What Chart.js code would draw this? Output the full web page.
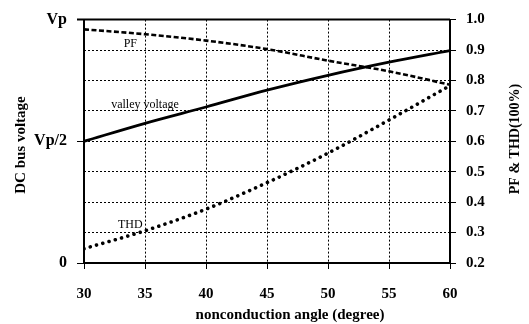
<!DOCTYPE html>
<html>
<head>
<meta charset="utf-8">
<script src="https://cdn.jsdelivr.net/npm/chart.js@4"></script>
<style>
  html, body { margin: 0; padding: 0; background: #fff; }
  canvas { display: block; }
</style>
</head>
<body>
<canvas id="chart" width="529" height="324"></canvas>
<script>
// nonconduction angle (degree)
const angles = [30, 35, 40, 45, 50, 55, 60];
// power factor (right axis)
const pf = [0.968, 0.952, 0.931, 0.903, 0.865, 0.830, 0.786];
// valley voltage as a fraction of Vp (left axis)
const valleyVoltage = [0.5, 0.574, 0.641, 0.71, 0.771, 0.825, 0.873];
// THD (right axis)
const thd = [0.247, 0.306, 0.377, 0.464, 0.561, 0.670, 0.783];
const leftTickLabels = ["0", "Vp/2", "Vp"];
const curveNames = ["PF", "valley voltage", "THD"];
const axisTitles = ["DC bus voltage", "PF & THD(100%)", "nonconduction angle (degree)"];

const serif = "'Liberation Serif', 'Times New Roman', serif";
const toPoints = (ys) => angles.map((x, i) => ({ x: x, y: ys[i] }));

// solid top edge of the plot box, and the axis titles (vertical ones read upward)
const frame = {
  id: "frame",
  afterDraw(chart) {
    const { ctx, chartArea } = chart;
    ctx.save();
    ctx.strokeStyle = "#000";
    ctx.lineWidth = 2;
    ctx.beginPath();
    ctx.moveTo(chartArea.left - 7, chartArea.top);
    ctx.lineTo(chartArea.right, chartArea.top);
    ctx.stroke();

    ctx.fillStyle = "#000";
    ctx.textAlign = "center";
    ctx.textBaseline = "middle";
    [[21, 145, 15, -Math.PI / 2], [515, 139, 14, -Math.PI / 2], [290, 315, 15, 0]].forEach(([x, y, size, rot], i) => {
      ctx.save();
      ctx.font = "bold " + size + "px " + serif;
      ctx.translate(x, y);
      ctx.rotate(rot);
      ctx.fillText(axisTitles[i], 0, 0);
      ctx.restore();
    });
    ctx.restore();
  },
};

// curve names written next to the lines
const curveLabels = {
  id: "curveLabels",
  afterDatasetsDraw(chart) {
    const { ctx, scales } = chart;
    const spots = [
      [33.8, 0.92, "y"],
      [35.0, 0.65, "yL"],
      [33.8, 0.324, "y"],
    ];
    ctx.save();
    ctx.fillStyle = "#000";
    ctx.font = "12px " + serif;
    ctx.textAlign = "center";
    ctx.textBaseline = "middle";
    spots.forEach(([x, y, axis], i) => {
      ctx.fillText(curveNames[i], scales.x.getPixelForValue(x), scales[axis].getPixelForValue(y));
    });
    ctx.restore();
  },
};

new Chart(document.getElementById("chart"), {
  type: "line",
  data: {
    datasets: [
      {
        label: "PF",
        data: toPoints(pf),
        yAxisID: "y",
        borderColor: "#000",
        borderWidth: 2.6,
        borderDash: [5, 2.5],
        pointRadius: 0,
        cubicInterpolationMode: "monotone",
      },
      {
        label: "valley voltage",
        data: toPoints(valleyVoltage),
        yAxisID: "yL",
        borderColor: "#000",
        borderWidth: 2.8,
        pointRadius: 0,
        cubicInterpolationMode: "monotone",
      },
      {
        label: "THD",
        data: toPoints(thd),
        yAxisID: "y",
        borderColor: "#000",
        borderWidth: 3.6,
        borderDash: [0.01, 6.5],
        borderCapStyle: "round",
        pointRadius: 0,
        cubicInterpolationMode: "monotone",
      },
    ],
  },
  options: {
    responsive: false,
    animation: false,
    layout: { padding: { top: 17 } },
    plugins: {
      legend: { display: false },
      tooltip: { enabled: false },
    },
    scales: {
      x: {
        type: "linear",
        min: 30,
        max: 60,
        afterFit: (scale) => { scale.height = 61; },
        ticks: {
          stepSize: 5,
          color: "#000",
          padding: 16,
          font: { family: serif, size: 15, weight: "bold" },
        },
        grid: {
          color: "#000",
          lineWidth: 1,
          tickLength: 6,
          tickBorderDash: [],
        },
        border: { color: "#000", width: 2, dash: [2, 2] },
      },
      yL: {
        type: "linear",
        position: "left",
        min: 0,
        max: 1,
        afterFit: (scale) => { scale.width = 84; },
        ticks: {
          stepSize: 0.5,
          color: "#000",
          padding: 10,
          font: { family: serif, size: 16, weight: "bold" },
          callback: (v) => leftTickLabels[Math.round(v * 2)],
        },
        grid: {
          drawOnChartArea: false,
          color: "#000",
          tickLength: 7,
        },
        border: { color: "#000", width: 2 },
      },
      y: {
        type: "linear",
        position: "right",
        min: 0.2,
        max: 1.0,
        afterFit: (scale) => { scale.width = 79; },
        ticks: {
          stepSize: 0.1,
          color: "#000",
          padding: 10,
          font: { family: serif, size: 15, weight: "bold" },
          callback: (v) => v.toFixed(1),
        },
        grid: {
          color: "#000",
          lineWidth: 1,
          tickLength: 6,
          tickBorderDash: [],
        },
        border: { color: "#000", width: 2, dash: [2, 2] },
      },
    },
  },
  plugins: [frame, curveLabels],
});
</script>
</body>
</html>
